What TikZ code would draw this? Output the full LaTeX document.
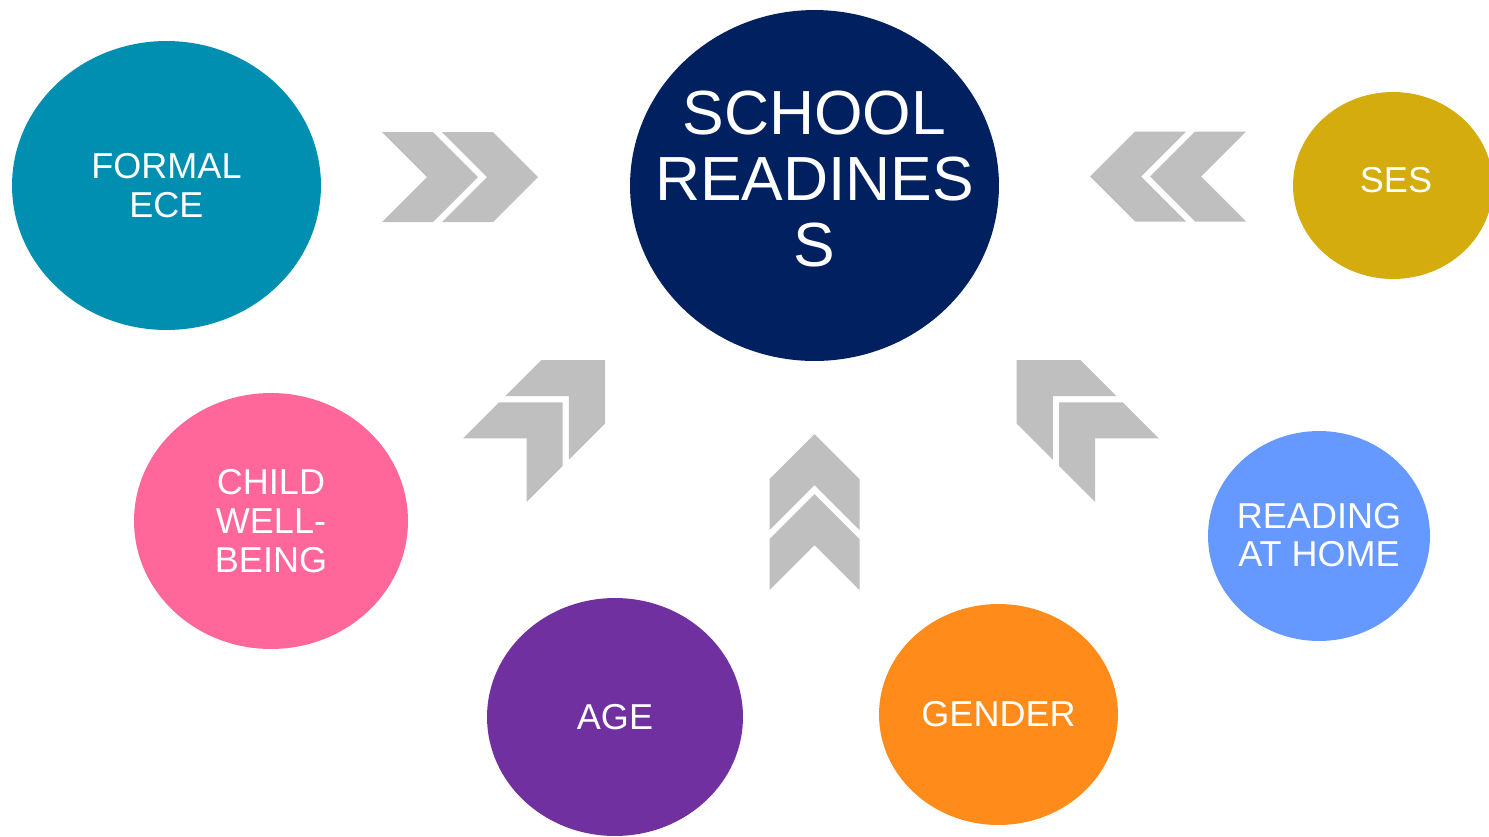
\documentclass[tikz,border=0pt]{standalone}
\usepackage{xcolor}
\usepackage{fontspec}
\setmainfont{Liberation Sans}
\usepackage{tikz}
\usetikzlibrary{shapes.geometric}

\definecolor{eceteal}{RGB}{0,143,176}
\definecolor{schoolnavy}{RGB}{0,32,96}
\definecolor{sesgold}{RGB}{212,172,14}
\definecolor{childpink}{RGB}{255,102,153}
\definecolor{agepurple}{RGB}{112,48,160}
\definecolor{genderorange}{RGB}{255,140,26}
\definecolor{readblue}{RGB}{102,153,255}
\definecolor{chevgray}{RGB}{191,191,191}

\begin{document}
\begin{tikzpicture}[
		x=0.02cm, y=-0.02cm,
		bubble/.style={ellipse, inner sep=0pt, align=center, text=white, font=\fontsize{20.5}{22}\selectfont},
		bubbletext/.style={inner sep=0pt, align=center, text=white, font=\fontsize{20.5}{22}\selectfont},
		chev/.pic={\fill[chevgray] (0,0) -- (-45,45) -- (-96,45) -- (-51,0) -- (-96,-45) -- (-45,-45) -- cycle;}
	]
		\clip (0,0) rectangle (1489,836);
		
		% Centre
		\node[bubble, fill=schoolnavy, minimum width=7.38cm, minimum height=7.02cm] (school) at (814.5,185.5) {};
		\node[bubbletext, font=\fontsize{35.5}{37.5}\selectfont] (schooltext) at (814.5,179) {SCHOOL\\READINES\\S};
		
		% Factors
		\node[bubble, fill=eceteal, minimum width=6.18cm, minimum height=5.78cm] (ece) at (166.5,185.5) {FORMAL\\ECE};
		\node[bubble, fill=sesgold, minimum width=4cm, minimum height=3.74cm] (ses) at (1393,185.5) {};
		\node[bubbletext] (sestext) at (1396,180) {SES};
		\node[bubble, fill=childpink, minimum width=5.48cm, minimum height=5.12cm] (child) at (271,521) {CHILD\\WELL-\\BEING};
		\node[bubble, fill=agepurple, minimum width=5.12cm, minimum height=4.76cm] (age) at (615,717) {AGE};
		\node[bubble, fill=genderorange, minimum width=4.78cm, minimum height=4.42cm] (gender) at (998.5,714.5) {GENDER};
		\node[bubble, fill=readblue, minimum width=4.44cm, minimum height=4.2cm] (home) at (1319,536) {};
		\node[bubbletext] (hometext) at (1319,535) {READING\\AT HOME};
		
		% Chevrons
		\pic at (538,177) {chev};
		\pic at (478,177) {chev};
		\pic[rotate=180] at (1090,176.5) {chev};
		\pic[rotate=180] at (1150,176.5) {chev};
		\pic[rotate=90] at (814.5,434) {chev};
		\pic[rotate=90] at (814.5,494) {chev};
		\pic[rotate=45] at (605,360) {chev};
		\pic[rotate=45] at (562.6,402.4) {chev};
		\pic[rotate=135] at (1016.7,360) {chev};
		\pic[rotate=135] at (1059.1,402.4) {chev};
	\end{tikzpicture}
\end{document}
